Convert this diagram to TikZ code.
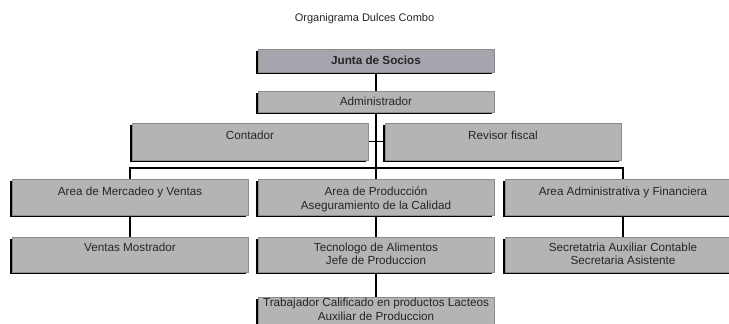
\documentclass[tikz,border=0pt]{standalone}
\usepackage{fontspec}
\setmainfont{Liberation Sans}
\usetikzlibrary{shadows,positioning}
\definecolor{boxgray}{HTML}{B4B4B4}
\definecolor{topgray}{HTML}{A5A5AD}
\definecolor{edgegray}{HTML}{8C8C8C}
\newcommand\tstrut{\rule{0pt}{9pt}}
\tikzset{
  box/.style={draw=edgegray, line width=1pt, fill=boxgray, minimum width=236pt, inner sep=0pt,
    general shadow={fill=black, shadow xshift=-2.5pt, shadow yshift=-2pt}},
  txt/.style={inner sep=0pt, align=center, font=\fontsize{11.7}{13.5}\selectfont, text=black!85},
  conn/.style={draw=black, line width=1.1pt}
}
\begin{document}
\begin{tikzpicture}[x=1pt,y=-1pt]
\useasboundingbox (0,0) rectangle (729,324);
\fill[white] (0,0) rectangle (729,324);
\node[txt, font=\fontsize{11}{13}\selectfont] (title) at (364.5,18.5) {Organigrama Dulces Combo};
% boxes
\node[box, fill=topgray, minimum height=23pt] (junta) at (376,60.5) {};
\node[box, minimum height=21pt] (admin) at (376,101.5) {};
\node[box, minimum height=37pt] (contador) at (250,141.5) {};
\node[box, minimum height=37pt] (revisor) at (503,141.5) {};
\node[box, minimum height=36pt] (mercadeo) at (130,197) {};
\node[box, minimum height=36pt] (produccion) at (376,197) {};
\node[box, minimum height=36pt] (adminfin) at (623,197) {};
\node[box, minimum height=35pt] (ventas) at (130,254.5) {};
\node[box, minimum height=35pt] (tecnologo) at (376,254.5) {};
\node[box, minimum height=35pt] (secretaria) at (623,254.5) {};
\node[box, minimum height=36pt] (trabajador) at (376,315) {};
% texts
\node[txt, font=\bfseries\fontsize{11.7}{13.5}\selectfont, below=6.5pt of junta.north] (tjunta) {\tstrut Junta de Socios};
\node[txt, below=6pt of admin.north] (tadmin) {\tstrut Administrador};
\node[txt, below=8.2pt of contador.north] (tcontador) {\tstrut Contador};
\node[txt, below=8.2pt of revisor.north] (trevisor) {\tstrut Revisor fiscal};
\node[txt, below=8pt of mercadeo.north] (tmercadeo) {\tstrut Area de Mercadeo y Ventas};
\node[txt, below=8pt of produccion.north] (tproduccion) {\tstrut Area de Producción\\Aseguramiento de la Calidad};
\node[txt, below=8pt of adminfin.north] (tadminfin) {\tstrut Area Administrativa y Financiera};
\node[txt, below=5.5pt of ventas.north] (tventas) {\tstrut Ventas Mostrador};
\node[txt, below=5.5pt of tecnologo.north] (ttecnologo) {\tstrut Tecnologo de Alimentos\\Jefe de Produccion};
\node[txt, below=5.5pt of secretaria.north] (tsecretaria) {\tstrut Secretatria Auxiliar Contable\\Secretaria Asistente};
\node[txt, below=1pt of trabajador.north] (ttrabajador) {\tstrut Trabajador Calificado en productos Lacteos\\Auxiliar de Produccion};
% connectors
\coordinate (bus) at (376,168);
\draw[conn] (junta.south) -- (admin.north);
\draw[conn] (admin.south) -- (produccion.north);
\draw[conn] (contador.east) -- (contador.east -| admin.south);
\draw[conn] (revisor.west) -- (revisor.west -| admin.south);
\draw[conn] (mercadeo.north) |- (bus) -| (adminfin.north);
\draw[conn] (mercadeo.south) -- (ventas.north);
\draw[conn] (produccion.south) -- (tecnologo.north);
\draw[conn] (adminfin.south) -- (secretaria.north);
\draw[conn] (tecnologo.south) -- (trabajador.north);
\end{tikzpicture}
\end{document}
